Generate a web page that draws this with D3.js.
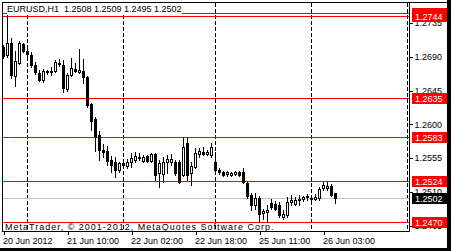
<!DOCTYPE html>
<html>
<head>
<meta charset="utf-8">
<script src="https://cdn.jsdelivr.net/npm/d3@7"></script>
<style>
  body { margin: 0; background: #fff; }
  svg { display: block; font-family: "Liberation Sans", Arial, sans-serif; }
</style>
</head>
<body>
<svg id="chart" width="451" height="251"></svg>
<script>
// EURUSD H1, 20 Jun 2012 18:00 .. 26 Jun 03:00
const symbol = "EURUSD,H1";
const copyright = "MetaTrader, \u00A9 2001-2012, MetaQuotes Software Corp.";

const opens = [
  1.2703, 1.2692, 1.2708, 1.2664, 1.2682, 1.2707, 1.2698, 1.2692, 1.2679, 1.2668,
  1.2659, 1.2670, 1.2671, 1.2671, 1.2682, 1.2679, 1.2647, 1.2666, 1.2674, 1.2670,
  1.2671, 1.2663, 1.2627, 1.2607, 1.2586, 1.2566, 1.2564, 1.2552, 1.2550, 1.2539,
  1.2548, 1.2544, 1.2550, 1.2552, 1.2556, 1.2551, 1.2558, 1.2551, 1.2560, 1.2535,
  1.2534, 1.2550, 1.2550, 1.2550, 1.2550, 1.2532, 1.2575, 1.2535, 1.2543, 1.2560,
  1.2563, 1.2560, 1.2559, 1.2550, 1.2539, 1.2536, 1.2534, 1.2532, 1.2534, 1.2536,
  1.2536, 1.2522, 1.2506, 1.2492, 1.2502, 1.2482, 1.2483, 1.2495, 1.2494, 1.2492,
  1.2476, 1.2479, 1.2496, 1.2494, 1.2499, 1.2500, 1.2503, 1.2502, 1.2500, 1.2502,
  1.2515, 1.2515, 1.2518, 1.2508
];
const highs = [
  1.2706, 1.2746, 1.2715, 1.2698, 1.2711, 1.2708, 1.2700, 1.2696, 1.2683, 1.2672,
  1.2674, 1.2672, 1.2676, 1.2686, 1.2687, 1.2686, 1.2668, 1.2688, 1.2682, 1.2700,
  1.2687, 1.2664, 1.2628, 1.2610, 1.2591, 1.2574, 1.2571, 1.2558, 1.2556, 1.2550,
  1.2551, 1.2554, 1.2562, 1.2563, 1.2562, 1.2559, 1.2559, 1.2562, 1.2562, 1.2552,
  1.2556, 1.2559, 1.2560, 1.2552, 1.2552, 1.2583, 1.2583, 1.2550, 1.2568, 1.2568,
  1.2570, 1.2566, 1.2575, 1.2563, 1.2542, 1.2538, 1.2538, 1.2536, 1.2538, 1.2538,
  1.2542, 1.2524, 1.2508, 1.2508, 1.2504, 1.2487, 1.2492, 1.2500, 1.2498, 1.2496,
  1.2486, 1.2503, 1.2506, 1.2503, 1.2506, 1.2504, 1.2507, 1.2504, 1.2507, 1.2516,
  1.2523, 1.2524, 1.2520, 1.2509
];
const lows = [
  1.2688, 1.2690, 1.2662, 1.2651, 1.2680, 1.2696, 1.2688, 1.2676, 1.2667, 1.2658,
  1.2656, 1.2667, 1.2666, 1.2670, 1.2678, 1.2643, 1.2644, 1.2664, 1.2670, 1.2668,
  1.2655, 1.2623, 1.2592, 1.2564, 1.2552, 1.2556, 1.2546, 1.2536, 1.2530, 1.2536,
  1.2543, 1.2542, 1.2543, 1.2550, 1.2552, 1.2550, 1.2550, 1.2550, 1.2526, 1.2516,
  1.2523, 1.2535, 1.2546, 1.2532, 1.2522, 1.2531, 1.2526, 1.2519, 1.2542, 1.2556,
  1.2559, 1.2559, 1.2556, 1.2536, 1.2534, 1.2531, 1.2531, 1.2531, 1.2532, 1.2531,
  1.2522, 1.2502, 1.2486, 1.2487, 1.2470, 1.2474, 1.2470, 1.2487, 1.2486, 1.2476,
  1.2474, 1.2476, 1.2492, 1.2492, 1.2492, 1.2498, 1.2499, 1.2498, 1.2499, 1.2499,
  1.2512, 1.2512, 1.2504, 1.2495
];
const closes = [
  1.2691, 1.2708, 1.2666, 1.2684, 1.2708, 1.2698, 1.2694, 1.2679, 1.2670, 1.2659,
  1.2671, 1.2671, 1.2670, 1.2683, 1.2680, 1.2648, 1.2666, 1.2675, 1.2671, 1.2672,
  1.2663, 1.2626, 1.2604, 1.2583, 1.2566, 1.2563, 1.2551, 1.2546, 1.2539, 1.2548,
  1.2546, 1.2550, 1.2555, 1.2558, 1.2555, 1.2556, 1.2551, 1.2560, 1.2532, 1.2548,
  1.2550, 1.2554, 1.2554, 1.2535, 1.2523, 1.2570, 1.2532, 1.2544, 1.2562, 1.2564,
  1.2560, 1.2563, 1.2570, 1.2539, 1.2536, 1.2532, 1.2536, 1.2535, 1.2536, 1.2532,
  1.2523, 1.2504, 1.2492, 1.2502, 1.2480, 1.2484, 1.2486, 1.2490, 1.2487, 1.2479,
  1.2480, 1.2496, 1.2499, 1.2499, 1.2500, 1.2503, 1.2504, 1.2500, 1.2503, 1.2514,
  1.2519, 1.2518, 1.2506, 1.2502
];

// time scale: bar index -> label
const timeTickBars = [0, 16, 32, 48, 64, 80];
const timeTickLabels = ["20 Jun 2012", "21 Jun 10:00", "22 Jun 02:00", "22 Jun 18:00", "25 Jun 11:00", "26 Jun 03:00"];
const daySeparatorBars = [6, 30, 53, 77, 101];   // 00:00 of each day

const priceTicks = [1.2465, 1.2510, 1.2555, 1.2600, 1.2645, 1.2690, 1.2735];
const levelLines = [1.2748, 1.2744, 1.2635, 1.2583, 1.2524, 1.2470];
const bidPrice = 1.2502;
const visibleRange = [1.24577, 1.27630];   // price window of the chart
const barSlots = 101;                       // bars that fit incl. right shift

const fmt = d3.format(".4f");

const svg = d3.select("#chart");
const W = 451, H = 251;
const plot = { left: 2, right: 409, top: 2, bottom: 231 };

const x = d3.scaleLinear().domain([0, barSlots]).range([3.5, 407.5]);
const y = d3.scaleLinear().domain(visibleRange).range([plot.bottom, plot.top]);
const row = p => Math.round(y(p));   // pixel row of a price

svg.append("rect").attr("width", W).attr("height", H).attr("fill", "#fff");

// day separators (dashed)
svg.append("g").selectAll("line")
  .data(daySeparatorBars)
  .join("line")
  .attr("x1", d => x(d)).attr("x2", d => x(d))
  .attr("y1", plot.top + 1).attr("y2", plot.bottom)
  .attr("stroke", "#000")
  .attr("stroke-dasharray", "4,2")
  .attr("shape-rendering", "crispEdges");

// bid line
svg.append("line")
  .attr("x1", plot.left).attr("x2", plot.right)
  .attr("y1", row(bidPrice) + 0.5).attr("y2", row(bidPrice) + 0.5)
  .attr("stroke", "#c0c0c0")
  .attr("shape-rendering", "crispEdges");

// horizontal levels
svg.append("g").selectAll("line")
  .data(levelLines)
  .join("line")
  .attr("x1", plot.left).attr("x2", plot.right)
  .attr("y1", d => row(d) + 0.5).attr("y2", d => row(d) + 0.5)
  .attr("stroke", "#ff0000")
  .attr("shape-rendering", "crispEdges");

// candles
const bars = d3.range(opens.length).map(i => ({
  i, o: opens[i], h: highs[i], l: lows[i], c: closes[i]
}));

const candles = svg.append("g").attr("shape-rendering", "crispEdges");

candles.selectAll("rect.wick")
  .data(bars)
  .join("rect")
  .attr("class", "wick")
  .attr("x", d => x(d.i) - 0.5)
  .attr("width", 1)
  .attr("y", d => row(d.h))
  .attr("height", d => row(d.l) - row(d.h) + 1)
  .attr("fill", "#000");

candles.selectAll("rect.body")
  .data(bars.filter(d => row(d.o) !== row(d.c)))
  .join("rect")
  .attr("class", "body")
  .attr("x", d => x(d.i) - 1)
  .attr("width", 2)
  .attr("y", d => Math.min(row(d.o), row(d.c)) + 0.5)
  .attr("height", d => Math.abs(row(d.o) - row(d.c)))
  .attr("fill", d => d.c > d.o ? "#fff" : "#000")
  .attr("stroke", "#000");

candles.selectAll("rect.doji")
  .data(bars.filter(d => row(d.o) === row(d.c)))
  .join("rect")
  .attr("class", "doji")
  .attr("x", d => x(d.i) - 1.5)
  .attr("width", 3)
  .attr("y", d => row(d.c))
  .attr("height", 1)
  .attr("fill", "#000");

// frame
svg.append("rect")
  .attr("x", plot.left + 0.5).attr("y", plot.top + 0.5)
  .attr("width", plot.right - plot.left).attr("height", plot.bottom - plot.top)
  .attr("fill", "none").attr("stroke", "#000")
  .attr("shape-rendering", "crispEdges");
svg.append("line")
  .attr("x1", plot.right).attr("x2", W - 4)
  .attr("y1", plot.top + 0.5).attr("y2", plot.top + 0.5)
  .attr("stroke", "#000").attr("shape-rendering", "crispEdges");

// price axis
const yAxis = d3.axisRight(y)
  .tickValues(priceTicks)
  .tickSize(3)
  .tickPadding(2)
  .tickFormat(fmt);

const yAxisG = svg.append("g")
  .attr("transform", `translate(${plot.right + 0.5},0)`)
  .call(yAxis);
yAxisG.select(".domain").remove();
yAxisG.selectAll(".tick line").attr("stroke", "#000").attr("shape-rendering", "crispEdges");
yAxisG.selectAll(".tick text")
  .attr("font-size", 9)
  .attr("font-family", "Liberation Sans, Arial, sans-serif")
  .attr("fill", "#000");

// time axis
const xAxis = d3.axisBottom(x)
  .tickValues(timeTickBars)
  .tickSize(3)
  .tickFormat((d, i) => timeTickLabels[i]);

const xAxisG = svg.append("g")
  .attr("transform", `translate(0,${plot.bottom + 0.5})`)
  .call(xAxis);
xAxisG.select(".domain").remove();
xAxisG.selectAll(".tick line").attr("stroke", "#000").attr("shape-rendering", "crispEdges");
xAxisG.selectAll(".tick text")
  .attr("text-anchor", "start")
  .attr("x", -1)
  .attr("y", 12)
  .attr("dy", 0)
  .attr("font-size", 9)
  .attr("font-family", "Liberation Sans, Arial, sans-serif")
  .attr("fill", "#000");

// price labels of the levels (red) and bid (black)
const tagW = 35, tagH = 11;
const tags = levelLines.map(p => ({ p, fill: "#ff0000" }))
  .concat([{ p: bidPrice, fill: "#000" }]);

const tagG = svg.append("g").selectAll("g")
  .data(tags)
  .join("g")
  .attr("transform", d => `translate(${plot.right + 3},${row(d.p) - 5})`);

tagG.append("rect")
  .attr("width", tagW).attr("height", tagH)
  .attr("fill", d => d.fill)
  .attr("shape-rendering", "crispEdges");

tagG.append("text")
  .attr("x", 3).attr("y", 9)
  .attr("font-size", 9)
  .attr("fill", "#fff")
  .text(d => fmt(d.p));

// header, on a white patch that hides the line under it
const last = bars[bars.length - 1];
const header = `${symbol}  ${fmt(last.o)} ${fmt(last.h)} ${fmt(last.l)} ${fmt(last.c)}`;
const headerG = svg.append("g");
const headerBg = headerG.append("rect").attr("fill", "#fff");
const headerText = headerG.append("text")
  .attr("x", 7).attr("y", 12)
  .attr("font-size", 9)
  .style("white-space", "pre")
  .attr("fill", "#000")
  .text(header);
const hb = headerText.node().getBBox();
headerBg
  .attr("x", hb.x).attr("y", plot.top + 1)
  .attr("width", hb.width).attr("height", 12);

svg.append("text")
  .attr("x", 5).attr("y", 230)
  .attr("font-size", 9)
  .attr("letter-spacing", 1)
  .attr("fill", "#000")
  .text(copyright);

// window border
svg.append("rect").attr("x", W - 4).attr("y", 0).attr("width", 4).attr("height", H).attr("fill", "#000");
svg.append("rect").attr("x", 0).attr("y", H - 3).attr("width", W).attr("height", 3).attr("fill", "#000");
</script>
</body>
</html>
